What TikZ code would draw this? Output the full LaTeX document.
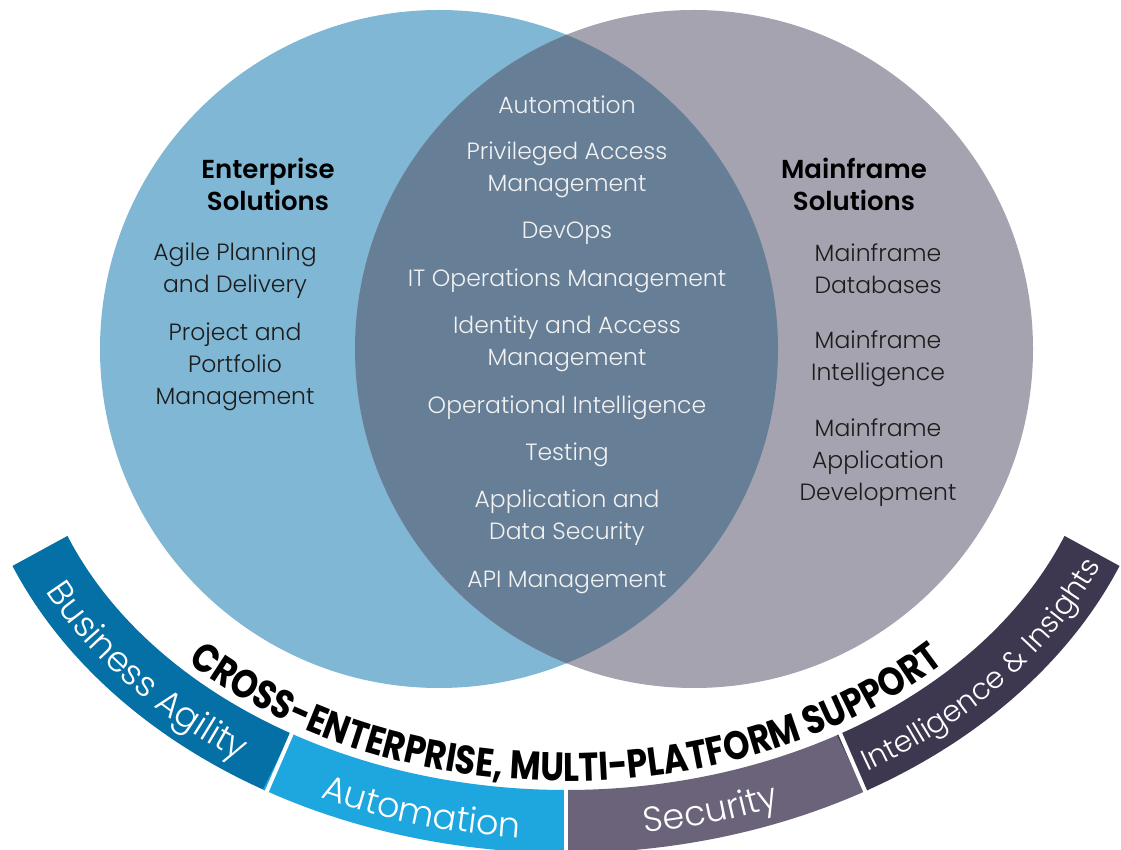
\documentclass[tikz,border=0pt]{standalone}
\usepackage{fontspec}
\setmainfont{Poppins Light}[BoldFont={Poppins SemiBold}]
\newfontfamily\crossfont{Poppins Bold}[FakeStretch=0.84]
\usetikzlibrary{decorations.text}
\definecolor{lcirc}{HTML}{80B7D4}
\definecolor{rcirc}{HTML}{A5A3AF}
\definecolor{lensc}{HTML}{667E96}
\definecolor{bagil}{HTML}{0470A6}
\definecolor{autom}{HTML}{1EA6DE}
\definecolor{secur}{HTML}{6B6379}
\definecolor{intel}{HTML}{3D3750}
\definecolor{darktxt}{HTML}{1C1C1C}
\definecolor{lighttxt}{HTML}{F2F2F2}
\newcommand\bandseg[5]{%
  \fill[#5] ([shift={(#1:534 and 396)}]O) arc[start angle=#1, end angle=#2, x radius=534, y radius=396]
    -- ([shift={(#3:597 and 459)}]O) arc[start angle=#3, end angle=#4, x radius=597, y radius=459] -- cycle;}
\tikzset{
  body/.style={font=\fontsize{23.5}{32}\selectfont, align=center, inner sep=0pt, text=darktxt},
  lensbody/.style={body, text=lighttxt},
  head/.style={font=\fontsize{26}{32}\selectfont\bfseries, align=center, inner sep=0pt, text=black},
  divider/.style={white, line width=4pt},
  bandtxt/.style={decorate, decoration={text along path, text align=center,
      text={|\color{white}\fontsize{35}{35}\selectfont|#1}}},
  bandtxtsmall/.style={decorate, decoration={text along path, text align=center,
      text={|\color{white}\fontsize{29.5}{29.5}\selectfont|#1}}},
  crosstxt/.style={decorate, decoration={text along path, text align=center,
      text={|\color{black}\crossfont\fontsize{40}{40}\selectfont|#1}}},
}
\begin{document}
\begin{tikzpicture}[x=1pt,y=1pt]
\useasboundingbox (0,0) rectangle (1121,849);
\clip (0,0) rectangle (1121,849);
\fill[white] (0,0) rectangle (1121,849);
% circles
\fill[lcirc] (439,500) circle (339);
\fill[rcirc] (694,500) circle (339);
\begin{scope}
  \clip (439,500) circle (339);
  \fill[lensc] (694,500) circle (339);
\end{scope}
% band
\coordinate (O) at (566,455);
\bandseg{201}{239.5}{240}{202}{bagil}
\bandseg{239}{270}{270}{239.5}{autom}
\bandseg{270}{301}{300.5}{270}{secur}
\bandseg{300.5}{339}{338}{300}{intel}
\draw[divider] ([shift={(239:528 and 390)}]O) -- ([shift={(240:603 and 465)}]O);
\draw[divider] ([shift={(270:528 and 390)}]O) -- ([shift={(270:603 and 465)}]O);
\draw[divider] ([shift={(301:528 and 390)}]O) -- ([shift={(300:603 and 465)}]O);
% band labels
\path[bandtxt={Business Agility}] ([shift={(198:581 and 443)}]O) arc[start angle=198, end angle=243, x radius=581, y radius=443];
\path[bandtxt={Automation}] ([shift={(235:583 and 445)}]O) arc[start angle=235, end angle=275, x radius=583, y radius=445];
\path[bandtxt={Security}] ([shift={(265:581 and 443)}]O) arc[start angle=265, end angle=305, x radius=581, y radius=443];
\path[bandtxtsmall={Intelligence {\&} Insights}] ([shift={(290:580 and 442)}]O) arc[start angle=290, end angle=351, x radius=580, y radius=442];
\path[crosstxt={CROSS-ENTERPRISE, MULTI-PLATFORM SUPPORT}] ([shift={(205:525 and 387)}]O) arc[start angle=205, end angle=335, x radius=525, y radius=387];
% left circle texts
\node[head] (ent) at (268,665) {Enterprise\\Solutions};
\node[body] (agile) at (235,578) {Agile Planning\\and Delivery};
\node[body] (ppm) at (235,482) {Project and\\Portfolio\\Management};
% right circle texts
\node[head] (mf) at (854,665) {Mainframe\\Solutions};
\node[body] (mdb) at (878,580) {Mainframe\\Databases};
\node[body] (mint) at (878,490) {Mainframe\\Intelligence};
\node[body] (mapp) at (878,386) {Mainframe\\Application\\Development};
% lens texts
\node[lensbody] (l1) at (567,744) {Automation};
\node[lensbody] (l2) at (567,679) {Privileged Access\\Management};
\node[lensbody] (l3) at (567,616) {DevOps};
\node[lensbody] (l4) at (567,568) {IT Operations Management};
\node[lensbody] (l5) at (567,505) {Identity and Access\\Management};
\node[lensbody] (l6) at (567,441) {Operational Intelligence};
\node[lensbody] (l7) at (567,394) {Testing};
\node[lensbody] (l8) at (567,331) {Application and\\Data Security};
\node[lensbody] (l9) at (567,267) {API Management};
\end{tikzpicture}
\end{document}
